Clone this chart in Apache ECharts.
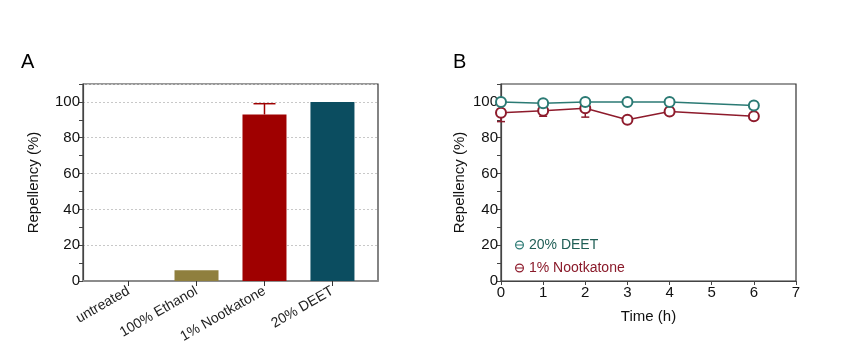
<!DOCTYPE html>
<html><head><meta charset="utf-8">
<script src="https://cdn.jsdelivr.net/npm/echarts@6/dist/echarts.min.js"></script>
<style>html,body{margin:0;padding:0;background:#fff}#c{width:841px;height:359px}</style>
</head><body><div id="c"></div>
<script>
// Panel A data
const catsA = ['untreated', '100% Ethanol', '1% Nootkatone', '20% DEET'];
const valsA = [0, 6, 93, 100];
const errA = [0, 0, 6, 0];
const colorsA = ['#8f7f3e', '#8f7f3e', '#9f0000', '#0b4d60'];
// Panel B data
const timeB = [0, 1, 2, 3, 4, 6];
const deetB = [100, 99.3, 100, 100, 100, 98];
const deetErrB = [0, 1, 1, 0, 0, 2];
const nootB = [94, 95, 96.5, 90, 94.7, 92];
const nootErrB = [5, 3, 5, 0, 0, 0];
const yTicks = [0, 20, 40, 60, 80, 100];
const xTicksB = [0, 1, 2, 3, 4, 5, 6, 7];

const FONT = '"Liberation Sans", Arial, sans-serif';
const cDeet = '#2b7a74', cNoot = '#8e1b2c';
// circle with a horizontal bar (⊖) legend icon
const ICON = 'path://M0,10A10,10 0 1,1 20,10A10,10 0 1,1 0,10Z' +
  'M2.6,10A7.4,7.4 0 1,0 17.4,10A7.4,7.4 0 1,0 2.6,10Z' +
  'M2,8.8L18,8.8L18,11.2L2,11.2Z';

function errRender(capHalf, color, upOnly) {
  return function (params, api) {
    const x = api.value(0), y = api.value(1), e = api.value(2);
    if (!e) return null;
    const top = api.coord([x, y + e]);
    const bot = api.coord([x, upOnly ? y : y - e]);
    const style = { stroke: color, lineWidth: 1.5 };
    const ch = [
      { type: 'line', shape: { x1: top[0], y1: top[1], x2: bot[0], y2: bot[1] }, style },
      { type: 'line', shape: { x1: top[0] - capHalf, y1: top[1], x2: top[0] + capHalf, y2: top[1] }, style }
    ];
    if (!upOnly) ch.push({ type: 'line', shape: { x1: bot[0] - capHalf, y1: bot[1], x2: bot[0] + capHalf, y2: bot[1] }, style });
    return { type: 'group', children: ch };
  };
}

const yMain = (gi) => ({
  type: 'value', gridIndex: gi, min: 0, max: 110, interval: 10,
  name: 'Repellency (%)', nameLocation: 'middle', nameGap: gi === 0 ? 42 : 34,
  nameTextStyle: { fontFamily: FONT, fontSize: 15, color: '#111' },
  axisLine: { show: true, onZero: false, lineStyle: { color: '#444', width: 1.2 } },
  axisTick: { show: true, length: 4, lineStyle: { color: '#444' } },
  axisLabel: { fontFamily: FONT, fontSize: 15, color: '#111', margin: 3,
    formatter: v => (yTicks.indexOf(v) >= 0 ? String(v) : '') },
  splitLine: { show: false }
});

const chart = echarts.init(document.getElementById('c'), null, { renderer: 'canvas' });
chart.setOption({
  animation: false,
  backgroundColor: '#fff',
  title: [
    { text: 'A', left: 16, top: 47, textStyle: { fontFamily: FONT, fontSize: 20, fontWeight: 'normal', color: '#000' } },
    { text: 'B', left: 448, top: 47, textStyle: { fontFamily: FONT, fontSize: 20, fontWeight: 'normal', color: '#000' } }
  ],
  grid: [
    { left: 83, top: 84, width: 295, height: 197, show: true, borderColor: '#333', borderWidth: 1.2, backgroundColor: 'transparent' },
    { left: 501, top: 84, width: 295, height: 197, show: true, borderColor: '#333', borderWidth: 1.2, backgroundColor: 'transparent' }
  ],
  legend: {
    orient: 'vertical', left: 510, top: 233, itemGap: 9, itemWidth: 9, itemHeight: 9,
    textStyle: { fontFamily: FONT, fontSize: 14 },
    data: [
      { name: '20% DEET', icon: ICON, itemStyle: { color: cDeet, borderWidth: 0 }, textStyle: { color: '#1f5e55' } },
      { name: '1% Nootkatone', icon: ICON, itemStyle: { color: cNoot, borderWidth: 0 }, textStyle: { color: '#8a1a2a' } }
    ]
  },
  xAxis: [
    { type: 'value', gridIndex: 0, min: -0.67, max: 3.67,
      axisLine: { show: true, onZero: false, lineStyle: { color: '#8c8c8c', width: 2 } },
      axisTick: { show: true, length: 5, customValues: [0, 1, 2, 3], lineStyle: { color: '#333' } },
      axisLabel: { customValues: [0, 1, 2, 3], rotate: 30, margin: 9, fontFamily: FONT, fontSize: 14, color: '#222',
        formatter: v => catsA[Math.round(v)] },
      splitLine: { show: false } },
    { type: 'value', gridIndex: 1, min: 0, max: 7, interval: 1,
      name: 'Time (h)', nameLocation: 'middle', nameGap: 28,
      nameTextStyle: { fontFamily: FONT, fontSize: 15, color: '#111' },
      axisLine: { show: true, onZero: false, lineStyle: { color: '#444', width: 1.2 } },
      axisTick: { show: true, length: 4, lineStyle: { color: '#444' } },
      axisLabel: { fontFamily: FONT, fontSize: 15, color: '#111', margin: 4, formatter: v => (xTicksB.indexOf(v) >= 0 ? String(v) : '') },
      splitLine: { show: false } }
  ],
  yAxis: [
    yMain(0),
    { type: 'value', gridIndex: 0, min: 0, max: 110, interval: 20,
      axisLine: { show: false, onZero: false }, axisTick: { show: false }, axisLabel: { show: false },
      splitLine: { show: true, lineStyle: { color: '#c8c8c8', type: [2, 2], width: 1 } } },
    yMain(1)
  ],
  series: [
    { type: 'bar', xAxisIndex: 0, yAxisIndex: 0, barWidth: 44, z: 2,
      data: valsA.map((v, i) => ({ value: [i, v], itemStyle: { color: colorsA[i] } })) },
    { type: 'custom', xAxisIndex: 0, yAxisIndex: 0, z: 3,
      renderItem: errRender(11, '#9f0000', true),
      data: valsA.map((v, i) => [i, v, errA[i]]) },
    { type: 'custom', xAxisIndex: 1, yAxisIndex: 2, z: 3,
      renderItem: errRender(4, cNoot, false),
      data: timeB.map((t, i) => [t, nootB[i], nootErrB[i]]) },
    { type: 'custom', xAxisIndex: 1, yAxisIndex: 2, z: 3,
      renderItem: errRender(4, cDeet, false),
      data: timeB.map((t, i) => [t, deetB[i], deetErrB[i]]) },
    { name: '1% Nootkatone', type: 'line', xAxisIndex: 1, yAxisIndex: 2, z: 4,
      symbol: 'emptyCircle', symbolSize: 10, color: cNoot,
      lineStyle: { color: cNoot, width: 1.5 }, itemStyle: { color: cNoot, borderWidth: 1.5, borderColor: cNoot },
      data: timeB.map((t, i) => [t, nootB[i]]) },
    { name: '20% DEET', type: 'line', xAxisIndex: 1, yAxisIndex: 2, z: 5,
      symbol: 'emptyCircle', symbolSize: 10, color: cDeet,
      lineStyle: { color: cDeet, width: 1.5 }, itemStyle: { color: cDeet, borderWidth: 1.5, borderColor: cDeet },
      data: timeB.map((t, i) => [t, deetB[i]]) }
  ]
});
</script></body></html>
